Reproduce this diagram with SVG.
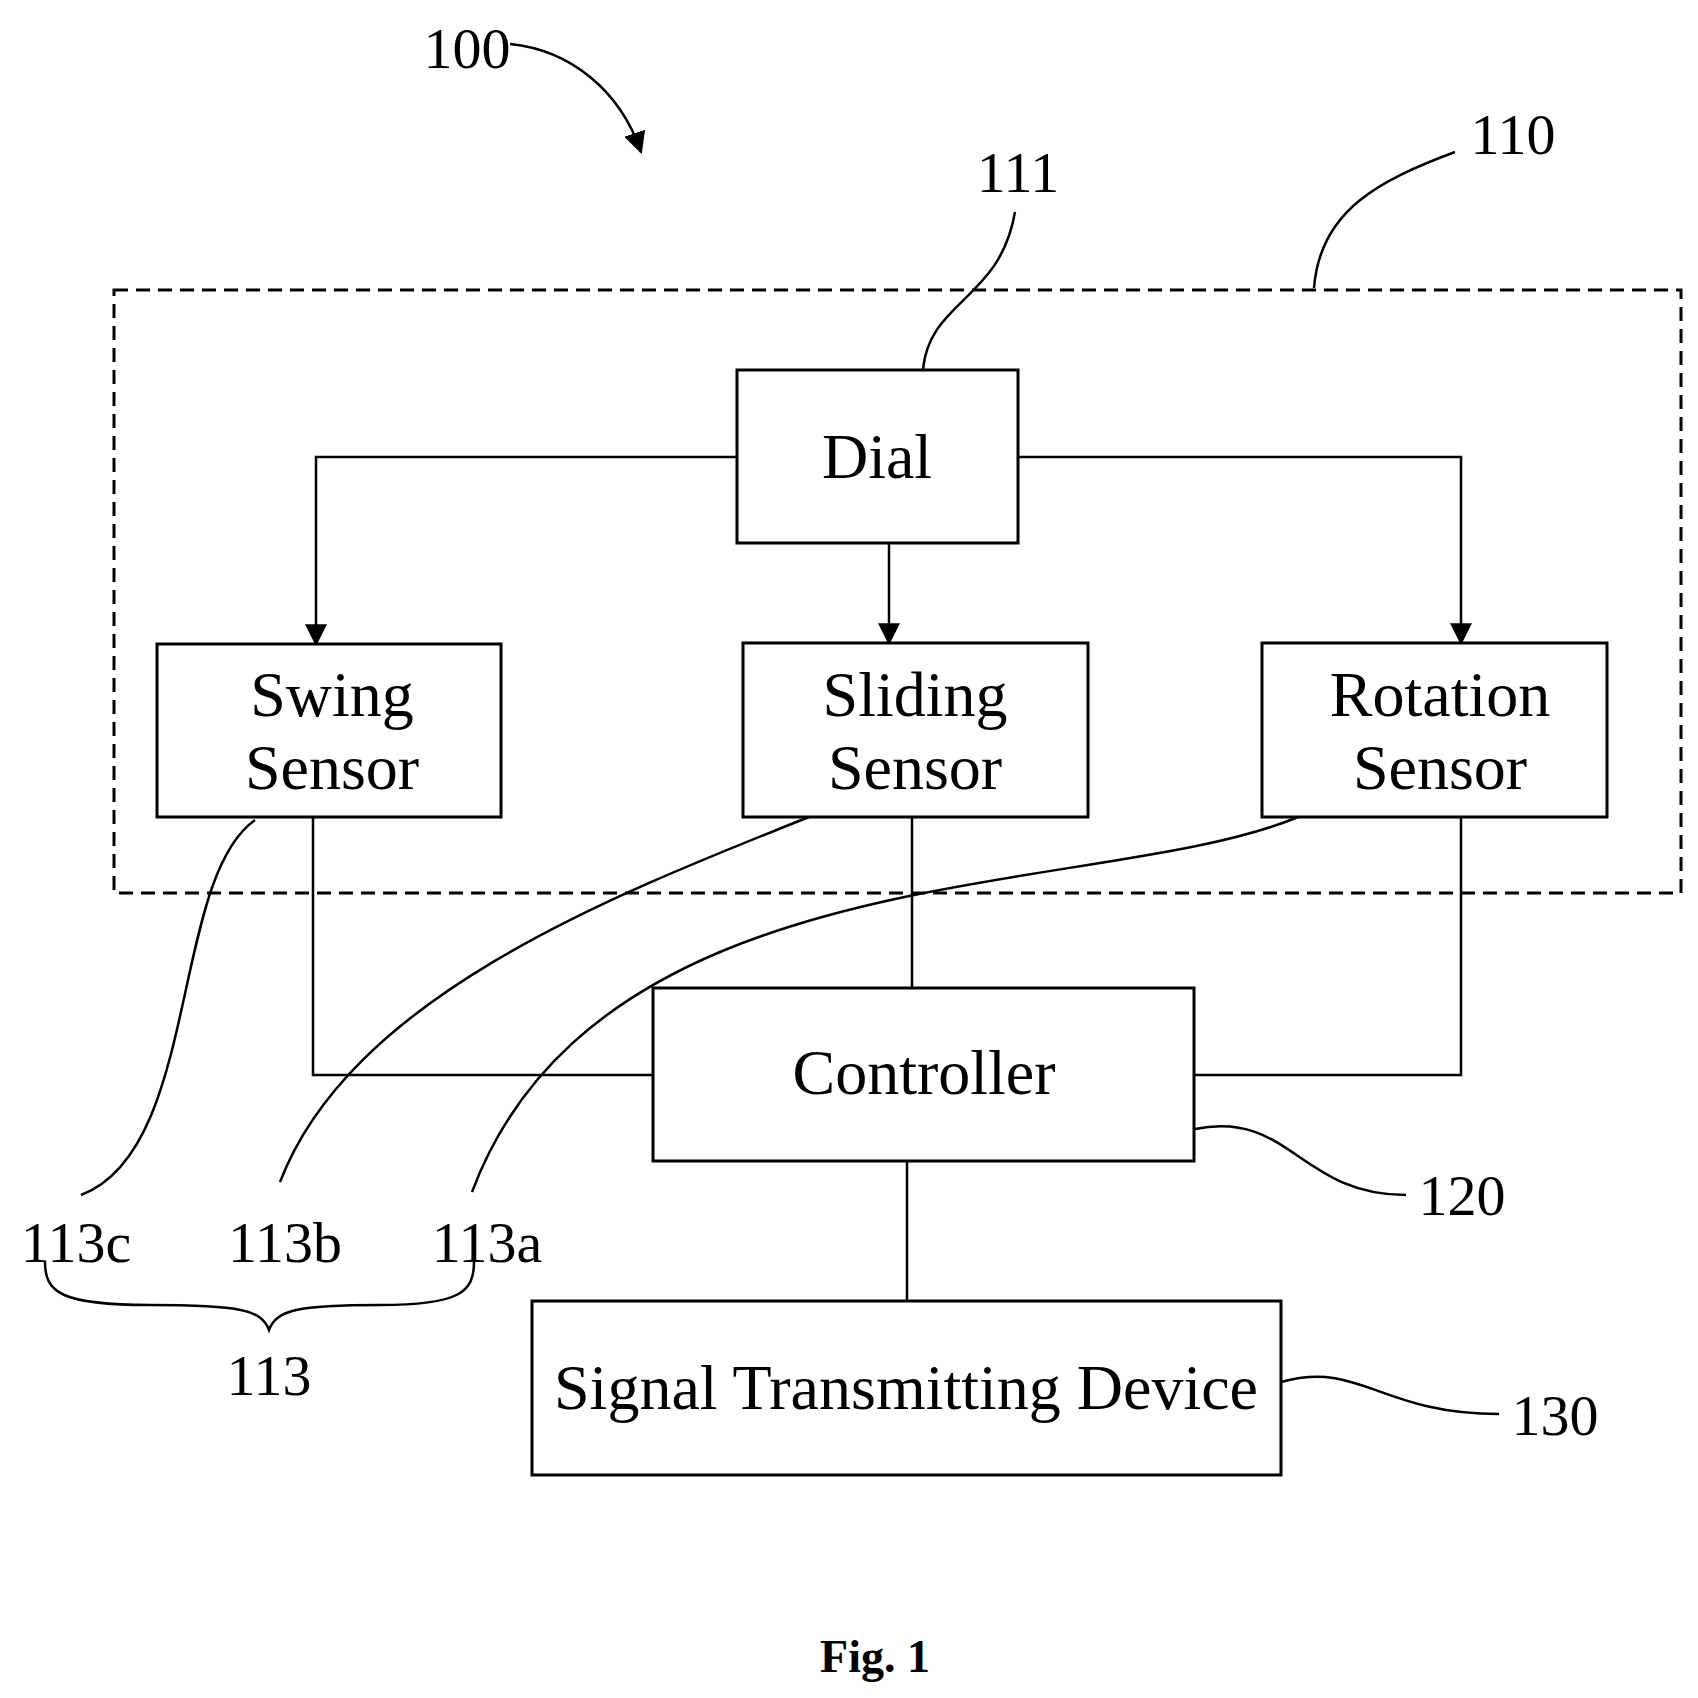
<svg xmlns="http://www.w3.org/2000/svg" width="1698" height="1698" viewBox="0 0 1698 1698">
<style>
.b{fill:#fff;stroke:#000;stroke-width:3}
.t{font-family:"Liberation Serif",serif;font-size:58px;text-anchor:middle;fill:#000}
.n{font-size:64px}
.l{fill:none;stroke:#000;stroke-width:2.5}
</style>
<defs>
<marker id="A" viewBox="0 0 10 10" refX="9" refY="5" markerWidth="22" markerHeight="22" orient="auto" markerUnits="userSpaceOnUse"><path d="M0,0L10,5L0,10z"/></marker></defs>
<rect x="114" y="290" width="1567" height="603" fill="none" stroke="#000" stroke-width="3" stroke-dasharray="14,8"/>
<g id="connectors" class="l">
<path d="M737,457H316V644" marker-end="url(#A)"/>
<path d="M889,543V643" marker-end="url(#A)"/>
<path d="M1018,457H1461V643" marker-end="url(#A)"/>
<path d="M313,817V1075H653"/>
<path d="M912,817V988"/>
<path d="M1461,817V1075H1194"/>
<path d="M907,1161V1301"/>
</g>
<g id="n111"><rect class="b" x="737" y="370" width="281" height="173"/><text class="t n" x="877" y="478">Dial</text></g>
<g id="n113c"><rect class="b" x="157" y="644" width="344" height="173"/><text class="t n" x="332" y="716">Swing</text><text class="t n" x="332" y="789">Sensor</text></g>
<g id="n113b"><rect class="b" x="743" y="643" width="345" height="174"/><text class="t n" x="915" y="716">Sliding</text><text class="t n" x="915" y="789">Sensor</text></g>
<g id="n113a"><rect class="b" x="1262" y="643" width="345" height="174"/><text class="t n" x="1440" y="716">Rotation</text><text class="t n" x="1440" y="789">Sensor</text></g>
<g id="n120"><rect class="b" x="653" y="988" width="541" height="173"/><text class="t n" x="924" y="1094">Controller</text></g>
<g id="n130"><rect class="b" x="532" y="1301" width="749" height="174"/><text class="t n" x="906" y="1409">Signal Transmitting Device</text></g>
<g id="leaders" class="l">
<path d="M510,44C570,50 620,90 641,152" marker-end="url(#A)"/>
<path d="M1455,152C1380,180 1320,210 1314,288"/>
<path d="M1015,212C1000,300 930,300 923,369"/>
<path d="M1195,1129C1290,1110 1300,1195 1406,1195"/>
<path d="M1281,1382C1360,1360 1380,1414 1499,1414"/>
<path d="M255,820C170,880 200,1150 81,1195"/>
<path d="M809,817C600,900 350,1000 280,1182"/>
<path d="M1298,817C1100,900 600,850 472,1192"/>
<path d="M45,1262C45,1292 60,1305 150,1305C240,1305 262,1310 269,1330C276,1310 298,1305 380,1305C460,1305 474,1292 474,1262"/>
</g>
<g id="labels" class="t">
<text x="467" y="68">100</text><text x="1513" y="154">110</text><text x="1018" y="192">111</text>
<text x="1462" y="1215">120</text><text x="1555" y="1435">130</text>
<text x="76" y="1262">113c</text><text x="285" y="1262">113b</text><text x="487" y="1262">113a</text><text x="269" y="1395">113</text>
<text x="875" y="1672" font-weight="bold" font-size="46">Fig. 1</text>
</g>
</svg>
